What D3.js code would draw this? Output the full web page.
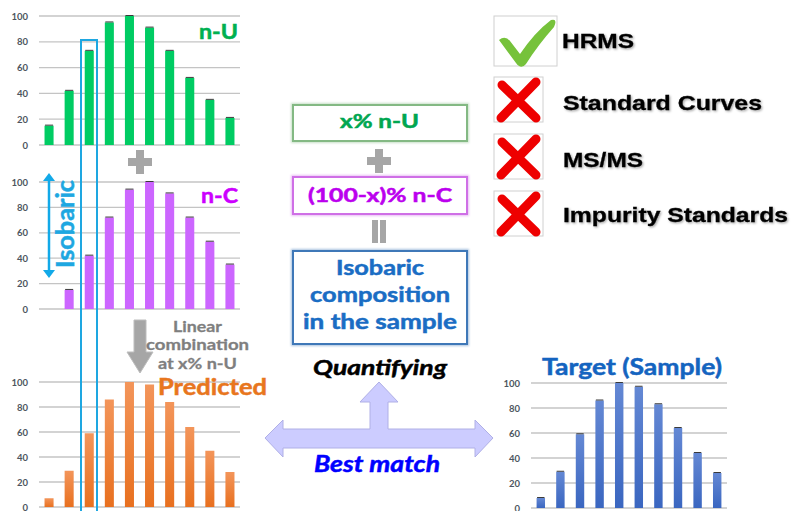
<!DOCTYPE html>
<html>
<head>
<meta charset="utf-8">
<script src="https://cdn.jsdelivr.net/npm/d3@7"></script>
<style>
  html, body { margin: 0; padding: 0; background: #fff; }
  svg { display: block; }
</style>
</head>
<body>
<svg id="chart" width="792" height="511"></svg>
<script>
// ion positions (no labels on the x axis)
const ions = [1, 2, 3, 4, 5, 6, 7, 8, 9, 10]
const yTicks = [0, 20, 40, 60, 80, 100]

// relative abundances
const nU = [15, 42, 73, 95, 100, 91, 73, 52, 35, 21]
const nC = [0, 15, 42, 72, 94, 100, 91, 72, 53, 35]
const predicted = [7, 29, 59, 86, 100, 98, 84, 64, 45, 28]
const target = [8, 29, 59, 86, 100, 97, 83, 64, 44, 28]

const checks = ['HRMS', 'Standard Curves', 'MS/MS', 'Impurity Standards']
const checkOk = [true, false, false, false]

const svg = d3.select('#chart')
const defs = svg.append('defs')

function vGrad (id, top, bottom) {
  const g = defs.append('linearGradient').attr('id', id)
    .attr('x1', 0).attr('x2', 0).attr('y1', 0).attr('y2', 1)
  g.append('stop').attr('offset', '0%').attr('stop-color', top)
  g.append('stop').attr('offset', '100%').attr('stop-color', bottom)
}
vGrad('gOrange', '#f3955a', '#e8701f')
vGrad('gBlue', '#6488d4', '#3a66c0')

const blur = defs.append('filter').attr('id', 'soft')
blur.append('feGaussianBlur').attr('stdDeviation', 0.8)
const shadow = defs.append('filter').attr('id', 'shadow')
  .attr('x', '-10%').attr('y', '-20%').attr('width', '130%').attr('height', '150%')
shadow.append('feDropShadow').attr('dx', 1.2).attr('dy', 1.2)
  .attr('stdDeviation', 0.8).attr('flood-color', '#000').attr('flood-opacity', 0.35)

/**
 * one small bar chart with gridlines and left tick labels
 */
function barChart (cfg) {
  const g = svg.append('g')
  const x = d3.scaleBand().domain(ions).range([cfg.left, cfg.right]).paddingInner(cfg.pad).paddingOuter(cfg.pad / 2)
  const y = d3.scaleLinear().domain([0, 100]).range([cfg.bottom, cfg.top])

  g.append('g').selectAll('line').data(yTicks).enter().append('line')
    .attr('x1', cfg.left).attr('x2', cfg.right)
    .attr('y1', d => y(d)).attr('y2', d => y(d))
    .attr('stroke', '#c4c4c4').attr('stroke-width', 1.3)

  const axis = g.append('g')
    .attr('transform', `translate(${cfg.left},0)`)
    .call(d3.axisLeft(y).tickValues(yTicks).tickSize(0).tickPadding(cfg.tickPad))
  axis.select('.domain').remove()
  axis.selectAll('text')
    .attr('font-family', 'Lato, "Open Sans", sans-serif')
    .attr('font-weight', 'bold').attr('font-size', 9.5).attr('fill', '#4d5560')

  const bars = g.append('g').selectAll('g').data(cfg.values).enter().append('g')
    .attr('transform', (d, i) => `translate(${x(ions[i])},0)`)
  bars.append('rect')
    .attr('width', x.bandwidth())
    .attr('y', d => y(d))
    .attr('height', d => y(0) - y(d))
    .attr('fill', cfg.fill)

  if (cfg.errors) {
    bars.filter(d => d > 0).append('line')
      .attr('x1', 0.5).attr('x2', x.bandwidth() - 0.5)
      .attr('y1', d => y(d) - 0.5).attr('y2', d => y(d) - 0.5)
      .attr('stroke', '#3a3a3a').attr('stroke-width', 1)
  }
  return g
}

barChart({ values: nU, left: 39, right: 240, top: 16, bottom: 145, pad: 0.55, tickPad: 11, fill: '#00cc63', errors: true })
barChart({ values: nC, left: 39, right: 240, top: 182, bottom: 309, pad: 0.55, tickPad: 11, fill: '#cc66ff', errors: true })
barChart({ values: predicted, left: 39, right: 240, top: 382, bottom: 507, pad: 0.55, tickPad: 11, fill: 'url(#gOrange)', errors: false })
barChart({ values: target, left: 531, right: 727, top: 383, bottom: 508, pad: 0.57, tickPad: 11, fill: 'url(#gBlue)', errors: true })

const sans = 'Lato, "Open Sans", sans-serif'
// text placed from its left edge, stretched to the width seen in the picture
function label (txt, x, y, size, color, len, opts = {}) {
  const t = svg.append('text').text(txt)
    .attr('x', x).attr('y', y)
    .attr('font-family', opts.family || sans)
    .attr('font-weight', 'bold')
    .attr('font-style', opts.italic ? 'italic' : 'normal')
    .attr('font-size', size)
    .attr('fill', color)
    .attr('stroke', color).attr('stroke-width', opts.heavy || 0.5)
  if (len) t.attr('textLength', len).attr('lengthAdjust', 'spacingAndGlyphs')
  return t
}

// chart titles
label('n-U', 199, 39, 20, '#00b050', 39)
label('n-C', 201, 203, 21, '#cc00ff', 37)
label('Predicted', 158, 395, 23.5, '#e8761e', 109)
label('Target (Sample)', 542, 375, 23.5, '#1464c0', 180)

// gray plus / equals / arrow
function plus (cx, cy, s, t) {
  svg.append('rect').attr('x', cx - s / 2).attr('y', cy - t / 2).attr('width', s).attr('height', t).attr('fill', '#a6a6a6')
  svg.append('rect').attr('x', cx - t / 2).attr('y', cy - s / 2).attr('width', t).attr('height', s).attr('fill', '#a6a6a6')
}
plus(140, 162, 24, 8)
plus(379, 161, 24, 8)
svg.append('rect').attr('x', 372).attr('y', 220).attr('width', 6).attr('height', 23).attr('fill', '#a6a6a6')
svg.append('rect').attr('x', 380).attr('y', 220).attr('width', 6).attr('height', 23).attr('fill', '#a6a6a6')

svg.append('path')
  .attr('d', 'M134,320 L146,320 L146,352 L153,352 L140,373 L127,352 L134,352 Z')
  .attr('fill', '#a6a6a6').attr('stroke', '#bdbdbd').attr('stroke-width', 1)

label('Linear', 173, 332, 15.5, '#7f7f7f', 49, { heavy: 0.3 })
label('combination', 146, 350, 15.5, '#7f7f7f', 103, { heavy: 0.3 })
label('at x% n-U', 158, 369, 15.5, '#7f7f7f', 79, { heavy: 0.3 })

// isobaric window
svg.append('path')
  .attr('d', 'M81,511 L81,40 L97,40 L97,511')
  .attr('fill', 'none').attr('stroke', '#1ea7e1').attr('stroke-width', 2)

// isobaric double arrow
svg.append('line').attr('x1', 49).attr('x2', 49).attr('y1', 178).attr('y2', 273)
  .attr('stroke', '#12a9e8').attr('stroke-width', 2.5)
svg.append('path').attr('d', 'M43,181 L49,173 L55,181 Z').attr('fill', '#12a9e8')
svg.append('path').attr('d', 'M43,270 L49,278 L55,270 Z').attr('fill', '#12a9e8')
svg.append('text').text('Isobaric')
  .attr('transform', 'translate(74,268) rotate(-90)')
  .attr('font-family', sans).attr('font-weight', 'bold').attr('font-size', 24)
  .attr('textLength', 88).attr('lengthAdjust', 'spacingAndGlyphs')
  .attr('fill', '#1ea7e1').attr('stroke', '#1ea7e1').attr('stroke-width', 0.5)

// formula boxes
function box (x, y, w, h, color) {
  svg.append('rect').attr('x', x).attr('y', y).attr('width', w).attr('height', h)
    .attr('fill', 'none').attr('stroke', color).attr('stroke-width', 4).attr('opacity', 0.45).attr('filter', 'url(#soft)')
  svg.append('rect').attr('x', x).attr('y', y).attr('width', w).attr('height', h)
    .attr('fill', '#fff').attr('stroke', color).attr('stroke-width', 2)
}
box(293, 105, 174, 36, '#84b984')
label('x% n-U', 340, 128, 18.5, '#00a650', 79)
box(293, 177, 174, 37, '#cf6fe6')
label('(100-x)% n-C', 308, 202, 19.5, '#bb00ee', 144)
box(293, 251, 174, 93, '#3f78b8')
label('Isobaric', 336, 275, 21, '#1a6dc4', 88)
label('composition', 310, 302, 21, '#1a6dc4', 140)
label('in the sample', 303, 329, 21, '#1a6dc4', 154)

// quantifying arrows
label('Quantifying', 313, 375, 21.5, '#000', 134, { italic: true })
svg.append('path')
  .attr('d', 'M265,438 L283,420 L283,429 L370,429 L370,402 L360,402 L379,382 L398,402 L388,402 L388,429 L475,429 L475,420 L493,438 L475,457 L475,448 L283,448 L283,457 Z')
  .attr('fill', '#ccccff').attr('stroke', '#b0b0e6').attr('stroke-width', 1)
label('Best match', 314, 472, 23, '#0000ff', 126, { italic: true })

// checklist
const rowY = [16, 77, 134, 191]
const rowText = [48, 110, 167, 222]
const rowLen = [72, 199, 80, 225]
checks.forEach((t, i) => {
  const w = checkOk[i] ? 63 : 49
  const h = checkOk[i] ? 50 : 45
  svg.append('rect').attr('x', 494).attr('y', rowY[i]).attr('width', w).attr('height', h)
    .attr('fill', '#fff').attr('stroke', '#d0d0d0').attr('stroke-width', 1)
  if (checkOk[i]) {
    svg.append('path')
      .attr('d', 'M499,40 Q505,35 510,41 L520,54 Q535,32 551,20 Q558,18 554,27 Q538,45 526,64 Q521,70 516,63 Z')
      .attr('fill', '#76c23b')
  } else {
    const x0 = 494, y0 = rowY[i]
    svg.append('path')
      .attr('d', `M${x0 + 8},${y0 + 8} L${x0 + 42},${y0 + 41}`)
      .attr('stroke', '#ee0000').attr('stroke-width', 9).attr('stroke-linecap', 'round')
    svg.append('path')
      .attr('d', `M${x0 + 42},${y0 + 5} L${x0 + 7},${y0 + 41}`)
      .attr('stroke', '#ee0000').attr('stroke-width', 9).attr('stroke-linecap', 'round')
  }
  label(t, checkOk[i] ? 562 : 563, rowText[i], 21, '#000', rowLen[i], { family: '"Liberation Sans", Arial, sans-serif', heavy: 0.3 })
    .attr('filter', 'url(#shadow)')
})
</script>
</body>
</html>
